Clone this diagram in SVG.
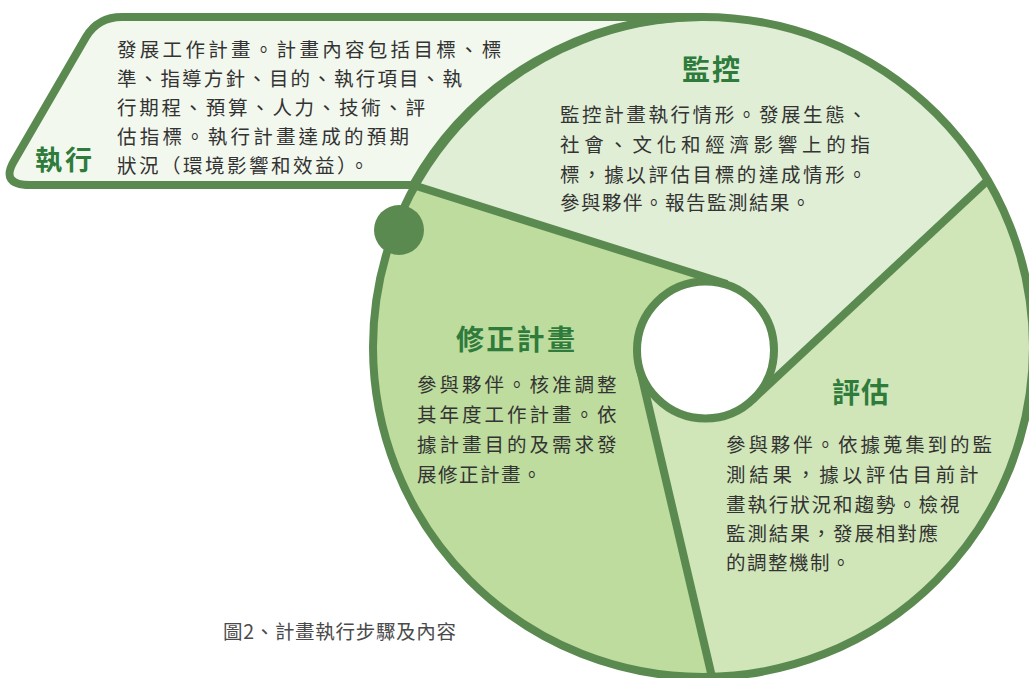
<svg xmlns="http://www.w3.org/2000/svg" width="1029" height="678" viewBox="0 0 1029 678">
  <style>
    .edge { stroke: #5b8a51; stroke-width: 8; fill: none; stroke-linejoin: round; }
    .title { font-family: "Noto Sans CJK TC", "Noto Sans CJK SC", sans-serif; font-weight: bold; font-size: 28px; fill: #2e7b3c; }
    .body { font-family: "Noto Sans CJK TC", "Noto Sans CJK SC", sans-serif; font-size: 19.5px; fill: #333333; letter-spacing: 1.5px; }
    .cap { font-family: "Noto Sans CJK TC", "Noto Sans CJK SC", sans-serif; font-size: 19.5px; fill: #4a4a4a; letter-spacing: 0.7px; }
  </style>
  <rect width="1029" height="678" fill="#ffffff"/>

  <g id="monitor">
    <path d="M 413,185 A 330 330 0 0 1 988,180 L 752,400 L 705,350 L 727,284 Z" fill="#e0eed6"/>
  </g>
  <g id="evaluate">
    <path d="M 988,180 A 330 330 0 0 1 712,677 L 639,365 L 705,350 L 752,400 Z" fill="#d0e6b9"/>
  </g>
  <g id="revise">
    <path d="M 712,677 A 330 330 0 0 1 413,185 L 727,284 L 705,350 L 639,365 Z" fill="#bddc9e"/>
  </g>
  <g id="execute">
    <path class="edge" d="M 413,185 L 30,185 Q 0,185 14,161 L 86,37 Q 98,17 122,17 L 703,17 A 330 330 0 0 0 413,185 Z" style="fill:#f2f8ee"/>
  </g>

  <g id="connectors">
    <circle class="edge" cx="703" cy="347" r="330"/>
    <line class="edge" x1="413" y1="185" x2="727" y2="284"/>
    <line class="edge" x1="988" y1="180" x2="752" y2="400"/>
    <line class="edge" x1="712" y1="677" x2="639" y2="365"/>
  </g>

  <g id="hub">
    <circle class="edge" cx="705.5" cy="350" r="68.5" style="fill:#ffffff"/>
  </g>
  <g id="dot">
    <circle cx="399" cy="230" r="25" fill="#5b8a51"/>
  </g>

  <g id="execute-text">
    <text class="title" x="35" y="170" style="font-size:27px; letter-spacing:3px">執行</text>
    <text class="body" x="117" y="57" style="letter-spacing:3.3px">發展工作計畫。計畫內容包括目標、標</text>
    <text class="body" x="117" y="86" style="letter-spacing:2.2px">準、指導方針、目的、執行項目、執</text>
    <text class="body" x="117" y="115" style="letter-spacing:2.7px">行期程、預算、人力、技術、評</text>
    <text class="body" x="117" y="144" style="letter-spacing:3.2px">估指標。執行計畫達成的預期</text>
    <text class="body" x="117" y="173" style="letter-spacing:2.5px">狀況（環境影響和效益）。</text>
  </g>

  <g id="monitor-text">
    <text class="title" x="682" y="80" style="letter-spacing:2px">監控</text>
    <text class="body" x="560" y="122" style="letter-spacing:2.6px">監控計畫執行情形。發展生態、</text>
    <text class="body" x="560" y="152" style="letter-spacing:4.7px">社會、文化和經濟影響上的指</text>
    <text class="body" x="560" y="182" style="letter-spacing:2.6px">標，據以評估目標的達成情形。</text>
    <text class="body" x="560" y="210">參與夥伴。報告監測結果。</text>
  </g>

  <g id="evaluate-text">
    <text class="title" x="832" y="403" style="letter-spacing:1px">評估</text>
    <text class="body" x="726" y="452" style="letter-spacing:2.9px">參與夥伴。依據蒐集到的監</text>
    <text class="body" x="726" y="482" style="letter-spacing:3.8px">測結果，據以評估目前計</text>
    <text class="body" x="726" y="512" style="letter-spacing:1.9px">畫執行狀況和趨勢。檢視</text>
    <text class="body" x="726" y="541" style="letter-spacing:1.9px">監測結果，發展相對應</text>
    <text class="body" x="726" y="570">的調整機制。</text>
  </g>

  <g id="revise-text">
    <text class="title" x="456" y="350" style="letter-spacing:2.3px">修正計畫</text>
    <text class="body" x="417" y="392" style="letter-spacing:3px">參與夥伴。核准調整</text>
    <text class="body" x="417" y="422" style="letter-spacing:3px">其年度工作計畫。依</text>
    <text class="body" x="417" y="452" style="letter-spacing:3px">據計畫目的及需求發</text>
    <text class="body" x="417" y="482">展修正計畫。</text>
  </g>

  <text class="cap" x="223" y="639">圖2、計畫執行步驟及內容</text>
</svg>
